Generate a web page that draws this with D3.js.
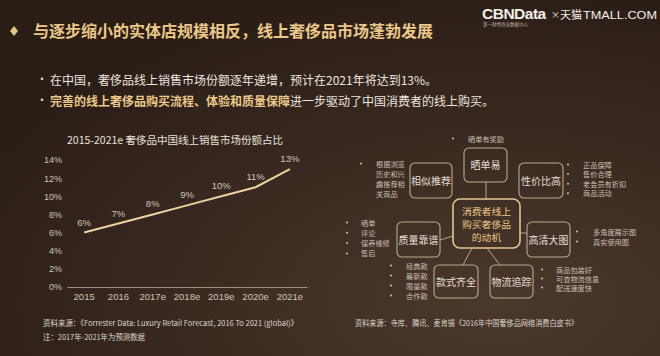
<!DOCTYPE html>
<html><head><meta charset="utf-8">
<script src="https://cdn.jsdelivr.net/npm/d3@7"></script>
<style>
html,body{margin:0;padding:0;background:#30221a;}
svg{display:block;font-family:"Noto Sans CJK SC","Noto Sans",sans-serif;}
</style></head>
<body>
<svg id="c" width="660" height="356"></svg>
<script>
// ---- data ----
const years = ["2015","2016","2017e","2018e","2019e","2020e","2021e"];
const shares = [6,7,8,9,10,11,13];
const yTicks = [0,2,4,6,8,10,12,14];
const headline = "与逐步缩小的实体店规模相反，线上奢侈品市场蓬勃发展";
const bullet1 = "在中国，奢侈品线上销售市场份额逐年递增，预计在2021年将达到13%。";
const bullet2Gold = "完善的线上奢侈品购买流程、体验和质量保障";
const bullet2Rest = "进一步驱动了中国消费者的线上购买。";
const chartTitle = "2015-2021e 奢侈品中国线上销售市场份额占比";
const sourceLeft = "资料来源：《Forrester Data: Luxury Retail Forecast, 2016 To 2021 (global)》";
const noteLeft = "注：2017年-2021年为预测数据";
const sourceRight = "资料来源：寺库、腾讯、麦肯锡《2016年中国奢侈品网络消费白皮书》";
const centerLines = ["消费者线上","购买奢侈品","的动机"];
const motiveNames = ["晒单易","相似推荐","性价比高","质量靠谱","高清大图","款式齐全","物流追踪"];
const motiveBullets = [
  ["晒单有奖励"],
  ["根据浏览历史和兴趣推荐相关商品"],
  ["正品保障","售价合理","老会员有折扣","商品活动"],
  ["晒单","评论","保养维修","售后"],
  ["多角度展示图","真实使用图"],
  ["经典款","最新款","限量款","合作款"],
  ["商品包装好","可查物流信息","配送速度快"]
];

// ---- layout (positions only) ----
const boxLayout = [
  {x:464,y:148,w:43,h:34},
  {x:410,y:163,w:42,h:35},
  {x:519,y:163,w:44,h:35},
  {x:397,y:222,w:43,h:35},
  {x:527,y:222,w:43,h:35},
  {x:434,y:265,w:44,h:33},
  {x:490,y:265,w:43,h:33}
];
const bulletLayout = [
  {dx:453, tx:468, y0:141, dy:10, wrap:0},
  {dx:361, tx:376, y0:166, dy:10.3, wrap:4},
  {dx:568, tx:583, y0:167, dy:9.6, wrap:0},
  {dx:347, tx:361, y0:225, dy:10.3, wrap:0},
  {dx:577, tx:593, y0:234, dy:10, wrap:0},
  {dx:391, tx:406, y0:268, dy:10, wrap:0},
  {dx:542, tx:556, y0:272, dy:9, wrap:0}
];

const svg = d3.select("#c");
const defs = svg.append("defs");
const rg = defs.append("radialGradient").attr("id","bg").attr("cx","0.75").attr("cy","0.85").attr("r","0.9");
rg.append("stop").attr("offset","0").attr("stop-color","#4b382c");
rg.append("stop").attr("offset","0.6").attr("stop-color","#36281f");
rg.append("stop").attr("offset","1").attr("stop-color","#2a1d16");
svg.append("rect").attr("width",660).attr("height",356).attr("fill","url(#bg)");

// header
svg.append("path").attr("d","M14,26 L18,31 L14,36 L10,31 Z").attr("fill","#e3c489");
svg.append("text").attr("x",33).attr("y",37).attr("font-size",16).attr("font-weight","bold")
  .attr("fill","#ebc98a").text(headline);

// logo
svg.append("text").attr("x",482).attr("y",19).attr("font-family","Liberation Sans, Arial, sans-serif")
  .attr("font-size",15.5).attr("font-weight","bold").attr("fill","#f2eee9").attr("letter-spacing",-0.5).text("CBNData");
svg.append("text").attr("x",551).attr("y",18).attr("font-size",9).attr("fill","#f2eee9").text("×");
svg.append("text").attr("x",560).attr("y",18.5).attr("font-size",11).attr("fill","#f2eee9").text("天猫");
svg.append("text").attr("x",583).attr("y",19).attr("font-family","Liberation Sans, Arial, sans-serif")
  .attr("font-size",11.5).attr("fill","#f2eee9").attr("textLength",74).attr("lengthAdjust","spacingAndGlyphs").text("TMALL.COM");
svg.append("text").attr("x",483).attr("y",26).attr("font-size",4.5).attr("fill","#bcb2a8").text("第一财经商业数据中心");

// bullets
svg.append("text").attr("x",36).attr("y",84).attr("font-size",12).attr("fill","#ddd5cc").text("•");
svg.append("text").attr("x",50).attr("y",85).attr("font-size",12).attr("fill","#ece6df").text(bullet1);
svg.append("text").attr("x",36).attr("y",105).attr("font-size",12).attr("fill","#ddd5cc").text("•");
const b2 = svg.append("text").attr("x",50).attr("y",106).attr("font-size",12);
b2.append("tspan").attr("fill","#ebc98a").attr("font-weight","bold").text(bullet2Gold);
b2.append("tspan").attr("fill","#ece6df").text(bullet2Rest);

// ---- line chart ----
const x = d3.scaleBand().domain(years).range([67,307]);
const y = d3.scaleLinear().domain([0,14]).range([287,160]);
const tc = "#cfc5ba";
svg.append("text").attr("x",175).attr("y",144).attr("text-anchor","middle").attr("font-size",10.5)
  .attr("fill","#e8e1da").text(chartTitle);

const yAxis = svg.append("g").attr("transform","translate(62,0)")
  .call(d3.axisLeft(y).tickValues(yTicks).tickFormat(d=>d+"%").tickSize(0).tickPadding(0));
yAxis.select(".domain").remove();
yAxis.selectAll("text").attr("fill",tc).attr("font-size",9).attr("font-family","Liberation Sans, Arial, sans-serif");

const xAxis = svg.append("g").attr("transform","translate(0,287)")
  .call(d3.axisBottom(x).tickSize(0).tickPadding(6));
xAxis.select(".domain").attr("stroke","#9b8f83").attr("stroke-width",1.2);
xAxis.selectAll("text").attr("fill",tc).attr("font-size",9.5).attr("font-family","Liberation Sans, Arial, sans-serif");

const pts = years.map((d,i)=>({k:d,v:shares[i]}));
svg.append("path").datum(pts)
  .attr("d",d3.line().x(d=>x(d.k)+x.bandwidth()/2).y(d=>y(d.v)))
  .attr("fill","none").attr("stroke","#ead3a0").attr("stroke-width",2);
svg.append("g").selectAll("text").data(pts).join("text")
  .attr("x",d=>x(d.k)+x.bandwidth()/2).attr("y",d=>y(d.v)-7)
  .attr("text-anchor","middle").attr("font-size",9.5).attr("fill",tc)
  .attr("font-family","Liberation Sans, Arial, sans-serif").text(d=>d.v+"%");

// sources
svg.append("text").attr("x",43).attr("y",326).attr("font-size",7.7).attr("fill","#ddd6ce")
  .attr("textLength",255).attr("lengthAdjust","spacingAndGlyphs").text(sourceLeft);
svg.append("text").attr("x",43).attr("y",340).attr("font-size",7.7).attr("fill","#ddd6ce")
  .attr("textLength",102).attr("lengthAdjust","spacingAndGlyphs").text(noteLeft);
svg.append("text").attr("x",355).attr("y",326).attr("font-size",7.5).attr("fill","#ddd6ce")
  .attr("textLength",223).attr("lengthAdjust","spacingAndGlyphs").text(sourceRight);

// ---- motive diagram ----
const center = {x:453,y:199,w:67,h:49};
const conn = "#b8a68e";
const links = [
  [486,182,486,199],
  [440,240,453,236],
  [520,233,527,233],
  [472,248,463,265],
  [487,248,500,265]
];
svg.append("g").selectAll("line").data(links).join("line")
  .attr("x1",d=>d[0]).attr("y1",d=>d[1]).attr("x2",d=>d[2]).attr("y2",d=>d[3])
  .attr("stroke",conn).attr("stroke-width",1);

svg.append("rect").attr("x",center.x).attr("y",center.y).attr("width",center.w).attr("height",center.h)
  .attr("rx",7).attr("fill","none").attr("stroke","#e2c88e").attr("stroke-width",1.6);
svg.append("g").selectAll("text").data(centerLines).join("text")
  .attr("x",center.x+center.w/2).attr("y",(d,i)=>center.y+15.5+i*13)
  .attr("text-anchor","middle").attr("font-size",9).attr("fill","#ecc986")
  .attr("textLength",d=>d.length*9.8).attr("lengthAdjust","spacingAndGlyphs").text(d=>d);

const gB = svg.append("g");
motiveNames.forEach((name,i)=>{
  const b = boxLayout[i];
  gB.append("rect").attr("x",b.x).attr("y",b.y).attr("width",b.w).attr("height",b.h)
    .attr("rx",5).attr("fill","none").attr("stroke","#b9a991").attr("stroke-width",1.1);
  gB.append("text").attr("x",b.x+b.w/2).attr("y",b.y+b.h/2+4).attr("text-anchor","middle")
    .attr("font-size",10).attr("fill","#e6ded5").text(name);
  const L = bulletLayout[i];
  let lines = motiveBullets[i];
  let dots = lines.length;
  if (L.wrap) {
    const s = lines[0]; const out = [];
    for (let k=0;k<s.length;k+=L.wrap) out.push(s.slice(k,k+L.wrap));
    lines = out; dots = 1;
  }
  lines.forEach((t,j)=>{
    if (j<dots) gB.append("circle").attr("cx",L.dx).attr("cy",L.y0+j*L.dy-2.5).attr("r",1).attr("fill","#cfc5ba");
    gB.append("text").attr("x",L.tx).attr("y",L.y0+j*L.dy+0.5).attr("font-size",7.2)
      .attr("fill","#c9bfb4").text(t);
  });
});
</script>
</body></html>
